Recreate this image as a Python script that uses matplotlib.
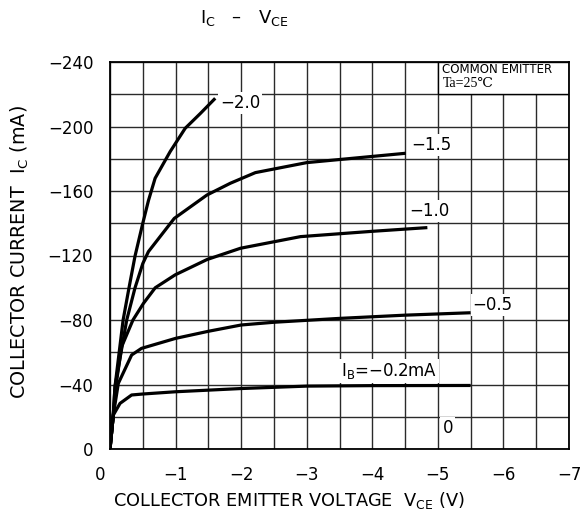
import matplotlib
matplotlib.use("Agg")
import matplotlib.pyplot as plt
import matplotlib.transforms as mtrans
from matplotlib.patches import Rectangle
from matplotlib.ticker import MultipleLocator

# ---- data (Vce in V, Ic in mA) ----
ib_labels = ['−2.0', '−1.5', '−1.0', '−0.5', 'I$_{\\mathregular{B}}$=−0.2mA']

vce_20 = [0, -0.05, -0.076, -0.2, -0.29, -0.382, -0.5, -0.586, -0.688, -0.917, -1.147, -1.376, -1.605]
ic_20 = [0, -21, -38.6, -80, -100, -119.7, -140, -154, -167.9, -184.4, -198.9, -208, -217.5]

vce_15 = [0, -0.05, -0.076, -0.255, -0.382, -0.5, -0.586, -0.98, -1.478, -1.835, -2.217, -3.0, -4.51]
ic_15 = [0, -21, -38.6, -80, -100, -115, -122.4, -143, -157.5, -164.8, -171.4, -177.6, -183.4]

vce_10 = [0, -0.05, -0.1, -0.178, -0.35, -0.51, -0.69, -0.994, -1.48, -1.99, -2.905, -4.0, -4.84]
ic_10 = [0, -21, -42, -63.5, -80, -90.3, -100, -108, -117.5, -124.5, -131.7, -135, -137.3]

vce_05 = [0, -0.05, -0.127, -0.33, -0.48, -1.0, -1.5, -2.0, -2.5, -3.5, -4.5, -5.5]
ic_05 = [0, -21, -40.7, -58.3, -62.4, -68.6, -73, -76.9, -78.6, -81, -83, -84.5]

vce_02 = [0, -0.05, -0.153, -0.33, -0.5, -1.0, -2.0, -3.0, -4.0, -5.5]
ic_02 = [0, -21, -28.3, -33.5, -34.1, -35.5, -37.5, -39, -39.3, -39.4]

# where each curve label sits (Vce, Ic)
label_pos = [(-1.68, -214.6), (-4.59, -188.8), (-4.56, -147.9), (-5.53, -89.3), (-3.52, -48.1)]
zero_label_pos = (-5.07, -13)

curves = [(vce_20, ic_20), (vce_15, ic_15), (vce_10, ic_10), (vce_05, ic_05), (vce_02, ic_02)]

"""
-----------
+  Plot   +
-----------
"""
fig = plt.figure(figsize=(5.83, 5.13), dpi=100)
ax = fig.add_axes([110/583, 1-449/513, 459/583, 387/513])

ax.set_xlim(0, -7)
ax.set_ylim(0, -240)
ax.xaxis.set_major_locator(MultipleLocator(1))
ax.yaxis.set_major_locator(MultipleLocator(40))
ax.xaxis.set_minor_locator(MultipleLocator(0.5))
ax.yaxis.set_minor_locator(MultipleLocator(20))
ax.grid(which='both', color='#2a2a2a', lw=1.0, zorder=0)
ax.set_axisbelow(True)
ax.tick_params(which='both', length=0, labelsize=12, colors='black')
ax.tick_params(axis='y', pad=12)
ax.tick_params(axis='x', pad=12)
for s in ax.spines.values():
    s.set_linewidth(1.3)

for (v, i) in curves:
    ax.plot(v, i, color='black', lw=2.3, solid_capstyle='butt', zorder=3)

for txt, (x, y) in zip(ib_labels, label_pos):
    ax.text(x, y, txt, ha='left', va='center', fontsize=12, zorder=4,
            bbox=dict(facecolor='white', edgecolor='none', pad=1.5))
ax.text(zero_label_pos[0], zero_label_pos[1], '0', ha='left', va='center', fontsize=12, zorder=4,
        bbox=dict(facecolor='white', edgecolor='none', pad=1.5))

# condition box
ax.add_patch(Rectangle((-5, -220), -2, -20, facecolor='white', edgecolor='black', lw=1.0, zorder=2))
ax.text(-5.07, -235.5, 'COMMON EMITTER', ha='left', va='center', fontsize=8.5, zorder=4)
ax.text(-5.07, -226.5, 'Ta=25℃', ha='left', va='center', fontsize=10, zorder=4,
        family=['Liberation Serif', 'DejaVu Serif', 'DejaVu Sans'])

# shift the x "0" label a bit to the left like the datasheet
xt = ax.get_xticklabels()
xt[[l.get_text() for l in xt].index('0')].set_transform(
    xt[0].get_transform() + mtrans.ScaledTranslation(-10/100, 0, fig.dpi_scale_trans))

ax.set_xlabel('COLLECTOR EMITTER VOLTAGE  V$_{\\mathregular{CE}}$ (V)', fontsize=12.8)
ax.xaxis.set_label_coords(0.39, -0.105)
ax.set_ylabel('COLLECTOR CURRENT  I$_{\\mathregular{C}}$ (mA)', fontsize=13.8)
ax.yaxis.set_label_coords(-0.172, 0.51)

fig.text(200/583, 1-18/513, 'I$_{\\mathregular{C}}$   –   V$_{\\mathregular{CE}}$', ha='left', va='center', fontsize=13)

plt.savefig('out.png', dpi=100)
